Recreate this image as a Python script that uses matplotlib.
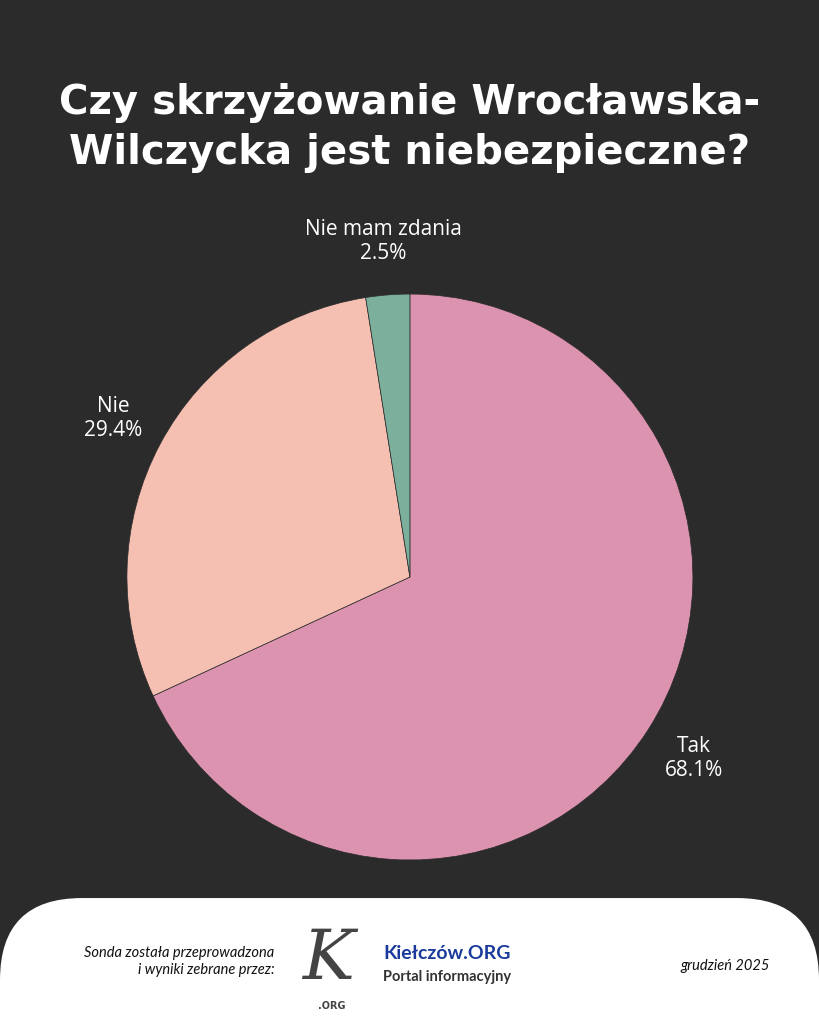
import matplotlib
matplotlib.use("Agg")
import matplotlib.pyplot as plt
from matplotlib.patches import FancyBboxPatch

labels = ["Tak", "Nie", "Nie mam zdania"]
values = [68.1, 29.4, 2.5]
colors = ["#dc93b0", "#f5bfb2", "#7db09c"]

fig = plt.figure(figsize=(8.19, 10.24), dpi=100)
fig.patch.set_facecolor("#2b2b2b")

fig.text(0.5, 0.875, "Czy skrzyżowanie Wrocławska-\nWilczycka jest niebezpieczne?",
         ha="center", va="center", color="white", fontsize=29, fontweight="heavy",
         family="DejaVu Sans", linespacing=1.3)

ax = fig.add_axes([0.155, 0.16, 0.691, 0.553])
ax.set_facecolor("#2b2b2b")
wedges, texts = ax.pie(values, colors=colors, startangle=90, counterclock=False,
                       labels=[f"{l}\n{v}%" for l, v in zip(labels, values)],
                       labeldistance=1.19,
                       wedgeprops=dict(edgecolor="#2b2b2b", linewidth=0.5),
                       textprops=dict(color="white", fontsize=15, ha="center", family="Open Sans"))
for t in texts:
    t.set_horizontalalignment("center")
    t.set_clip_on(False)
ax.set_xlim(-1, 1)
ax.set_ylim(-1, 1)
ax.set_aspect("equal")

box = FancyBboxPatch((0.0, -0.2), 1.0, 0.2 + 0.123, boxstyle="round,pad=0,rounding_size=0.1",
                     transform=fig.transFigure, facecolor="white", edgecolor="none",
                     mutation_aspect=0.8)
fig.patches.append(box)

fig.text(0.335, 0.061, "Sonda została przeprowadzona\ni wyniki zebrane przez:", ha="right",
         va="center", fontsize=10.5, style="italic", color="#111111", family="Lato",
         linespacing=1.2)
fig.text(0.4, 0.062, "K", ha="center", va="center", fontsize=50, color="#444444",
         family="DejaVu Serif", style="italic")
fig.text(0.405, 0.018, ".ORG", ha="center", va="center", fontsize=7, color="#444444",
         fontweight="bold")
fig.text(0.468, 0.069, "Kiełczów.ORG", ha="left", va="center", fontsize=14,
         fontweight="bold", color="#1a3a9c", family="Lato")
fig.text(0.468, 0.046, "Portal informacyjny", ha="left", va="center", fontsize=10.5,
         fontweight="bold", color="#333333", family="Lato")
fig.text(0.94, 0.057, "grudzień 2025", ha="right", va="center", fontsize=10.5,
         style="italic", color="#111111", family="Lato")

fig.savefig("out.png", dpi=100, facecolor=fig.get_facecolor())
